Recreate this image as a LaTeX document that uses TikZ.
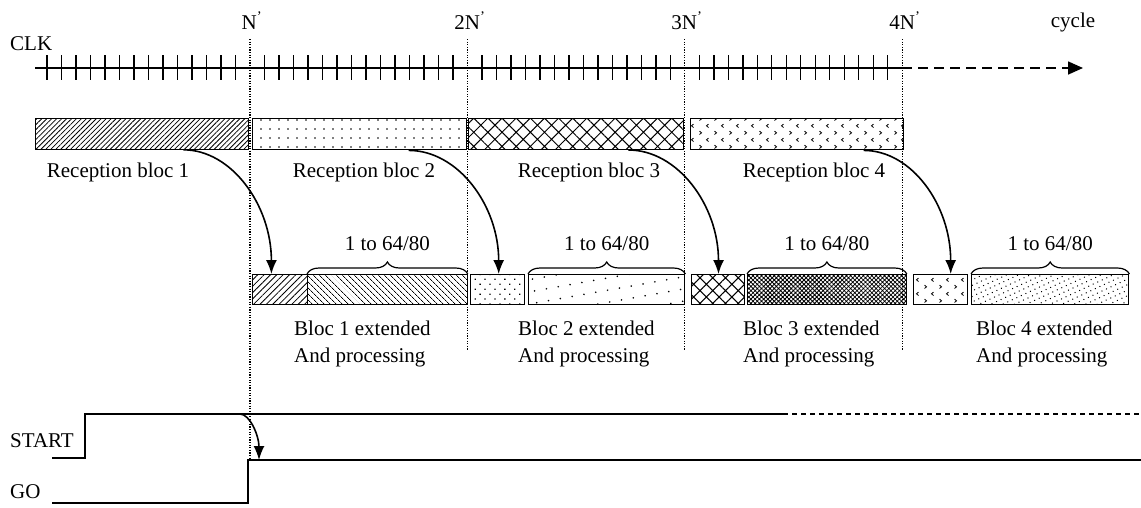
\documentclass[tikz,border=0pt]{standalone}
\usepackage{fontspec}
\setmainfont{Liberation Serif}
\usepackage{tikz}
\usetikzlibrary{arrows.meta,patterns.meta,decorations.pathreplacing,calc}

% little < and > marks for the fourth block
\tikzdeclarepattern{
  name=chevrons,
  type=colored,
  bottom left={(-0.5pt,-0.5pt)},
  top right={(15.5pt,14.5pt)},
  tile size={(15pt,14pt)},
  code={
    \tikzset{x=1pt,y=1pt}
    \draw[line width=0.8pt,black] (3.5,1.5) -- (1.5,3.2) -- (3.5,4.9);
    \draw[line width=0.8pt,black] (9.5,8.5) -- (11.5,10.2) -- (9.5,11.9);
  }
}

\tikzset{
  lbl/.style={font=\fontsize{21pt}{27pt}\selectfont, inner sep=0pt},
  blk/.style={draw, line width=1.4pt, inner sep=0pt, anchor=north west},
  rxbox/.style={blk, minimum height=31pt},
  exbox/.style={blk, minimum height=30pt},
  clk/.style={line width=1.6pt},
  tick/.style={line width=1.4pt},
  nline/.style={line width=1.2pt, dash pattern=on 1.2pt off 1.4pt},
  wave/.style={line width=1.3pt},
  flow/.style={-{Latex[length=14pt,width=11pt]}, line width=1.6pt},
  brc/.style={decorate, decoration={brace, amplitude=12pt}, line width=1.2pt},
}

\begin{document}
\begin{tikzpicture}[x=1pt,y=1pt]
\useasboundingbox (0,0) rectangle (1141,-507);

% clock axis
\coordinate (c0) at (35,-68);
\coordinate (c4) at (902,-68);
\coordinate (c5) at (1083,-68);
\draw[clk] (c0) -- (c4);
\draw[clk, dash pattern=on 10pt off 6pt, -{Triangle[length=15pt,width=13pt]}] (c4) -- (c5);
\foreach \p in {0,1,2,3}{
  \foreach \j in {1,...,14}{
    \draw[tick] ({250+217.4*\p-14.49*\j},-55) -- ++(0,-25);
  }
}
\node[lbl, anchor=base west] (clkname) at (10,-50) {CLK};
\node[lbl, anchor=base] (cyc) at (1073,-27) {cycle};

% period marks
\coordinate (n1) at (250,-39);
\coordinate (n2) at (467.4,-39);
\coordinate (n3) at (684.8,-39);
\coordinate (n4) at (902.2,-39);
\draw[nline] (n1) -- ++(0,-421);
\draw[nline] (n2) -- ++(0,-311);
\draw[nline] (n3) -- ++(0,-311);
\draw[nline] (n4) -- ++(0,-311);
\node[lbl, anchor=base] (t1) at (252,-29) {N\textsuperscript{'}};
\node[lbl, anchor=base] (t2) at (470,-29) {2N\textsuperscript{'}};
\node[lbl, anchor=base] (t3) at (687,-29) {3N\textsuperscript{'}};
\node[lbl, anchor=base] (t4) at (905,-29) {4N\textsuperscript{'}};

% reception blocks
\node[rxbox, minimum width=213pt, pattern={Lines[angle=45,distance=3.5pt,line width=0.8pt]}] (r1) at (35,-118) {};
\node[rxbox, minimum width=214pt, pattern={Dots[distance=9pt,radius=0.9pt]}] (r2) at (252,-118) {};
\node[rxbox, minimum width=215pt, pattern={Hatch[angle=45,distance=10pt,line width=1pt]}] (r3) at (468,-118) {};
\node[rxbox, minimum width=213pt, pattern=chevrons] (r4) at (690,-118) {};
\node[lbl, anchor=base] (lr1) at (118,-177) {Reception bloc 1};
\node[lbl, anchor=base] (lr2) at (364,-177) {Reception bloc 2};
\node[lbl, anchor=base] (lr3) at (589,-177) {Reception bloc 3};
\node[lbl, anchor=base] (lr4) at (814,-177) {Reception bloc 4};

% extended blocks
\node[exbox, minimum width=55pt, pattern={Lines[angle=45,distance=4.5pt,line width=0.8pt]}] (e1a) at (252,-274) {};
\node[exbox, minimum width=160pt, pattern={Lines[angle=-45,distance=4pt,line width=0.8pt]}] (e1b) at (307,-274) {};
\node[exbox, minimum width=54pt, pattern={Dots[distance=7pt,angle=45,radius=0.9pt]}] (e2a) at (470,-274) {};
\node[exbox, minimum width=156pt, pattern={Dots[distance=12pt,angle=10,radius=0.9pt]}] (e2b) at (528,-274) {};
\node[exbox, minimum width=53pt, pattern={Hatch[angle=45,distance=9pt,line width=1pt]}] (e3a) at (691,-274) {};
\node[exbox, minimum width=159pt, pattern={Hatch[angle=45,distance=3pt,line width=0.8pt]}] (e3b) at (747,-274) {};
\node[exbox, minimum width=54pt, pattern=chevrons] (e4a) at (913,-274) {};
\node[exbox, minimum width=157pt, pattern={Dots[distance=5pt,angle=25,radius=0.7pt]}] (e4b) at (971,-274) {};

% braces
\draw[brc] (e1b.north west) -- (e1b.north east);
\draw[brc] (e2b.north west) -- (e2b.north east);
\draw[brc] (e3b.north west) -- (e3b.north east);
\draw[brc] (e4b.north west) -- (e4b.north east);
\node[lbl, anchor=base] (b1) at ($(e1b.north)+(0,24)$) {1 to 64/80};
\node[lbl, anchor=base] (b2) at ($(e2b.north)+(0,24)$) {1 to 64/80};
\node[lbl, anchor=base] (b3) at ($(e3b.north)+(0,24)$) {1 to 64/80};
\node[lbl, anchor=base] (b4) at ($(e4b.north)+(0,24)$) {1 to 64/80};

\node[lbl, anchor=north west, align=left] (le1) at (294,-321) {Bloc 1 extended\\And processing};
\node[lbl, anchor=north west, align=left] (le2) at (518,-321) {Bloc 2 extended\\And processing};
\node[lbl, anchor=north west, align=left] (le3) at (743,-321) {Bloc 3 extended\\And processing};
\node[lbl, anchor=north west, align=left] (le4) at (976,-321) {Bloc 4 extended\\And processing};

% transfers
\draw[flow] ([xshift=41.5pt]r1.south) .. controls +(48,0) and +(0,69) .. ([xshift=-8.5pt]e1a.north);
\draw[flow] ([xshift=49pt]r2.south) .. controls +(49,0) and +(0,69) .. ([xshift=1pt]e2a.north);
\draw[flow] ([xshift=52.5pt]r3.south) .. controls +(49,0) and +(0,69) .. ([xshift=0.5pt]e3a.north);
\draw[flow] ([xshift=66.5pt]r4.south) .. controls +(48,0) and +(0,69) .. ([xshift=10pt]e4a.north);

% control signals
\node[lbl, anchor=base west] (start) at (10,-447) {START};
\node[lbl, anchor=base west] (go) at (10,-498) {GO};
\coordinate (s0) at (52,-458);
\coordinate (s1) at (85,-458);
\coordinate (s2) at (783,-414);
\coordinate (s3) at (1141,-414);
\draw[wave] (s0) -- (s1) |- (s2);
\draw[wave, dash pattern=on 5pt off 4pt] (s2) -- (s3);
\coordinate (g0) at (52,-503);
\coordinate (g1) at (248,-503);
\coordinate (g2) at (1141,-460);
\draw[wave] (g0) -- (g1) |- (g2);
\coordinate (sgo) at (240,-414);
\coordinate (ggo) at (259,-460);
\draw[flow] (sgo) .. controls +(10,0) and +(0,24) .. (ggo);
\end{tikzpicture}
\end{document}
